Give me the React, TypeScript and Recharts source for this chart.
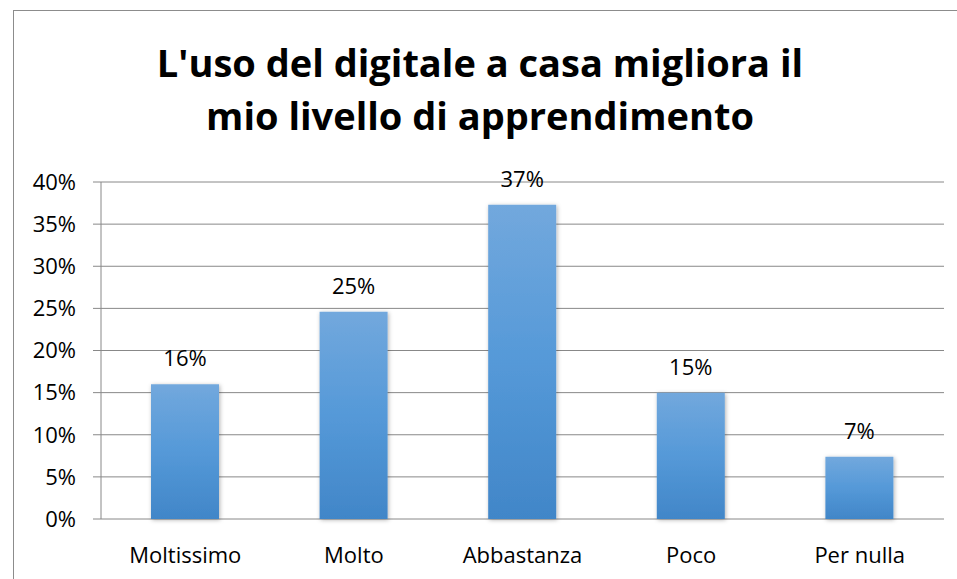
import { BarChart, Bar, XAxis, YAxis, CartesianGrid, LabelList } from "recharts";

const categories = ["Moltissimo", "Molto", "Abbastanza", "Poco", "Per nulla"];
const shares = [0.16, 0.246, 0.373, 0.15, 0.074];
const yTicks = [0, 0.05, 0.1, 0.15, 0.2, 0.25, 0.3, 0.35, 0.4];
const boundaryTicks = [0, 1, 2, 3, 4, 5];

const data = categories.map((name, i) => ({ name, value: shares[i], pos: i + 0.5 }));

const FONT = "'Open Sans', Lato, sans-serif";
const GRID = "#888888";
const pct = (v: number) => `${Math.round(v * 100)}%`;

export default function App() {
  return (
    <div style={{ position: "absolute", left: 0, top: 0, width: 957, height: 579, background: "#fff", overflow: "hidden" }}>
      {/* chart frame */}
      <div style={{ position: "absolute", left: 13, top: 10, width: 960, height: 600, border: "1px solid #8c8c8c" }} />
      <div
        style={{
          position: "absolute", left: 0, top: 36, width: 960, textAlign: "center",
          fontFamily: FONT, fontWeight: 700, fontSize: 38, lineHeight: "53px", color: "#000",
        }}
      >
        L'uso del digitale a casa migliora il
        <br />
        mio livello di apprendimento
      </div>
      <BarChart
        width={957}
        height={579}
        data={data}
        margin={{ top: 182, right: 13, bottom: 30, left: 13 }}
        style={{ position: "absolute", left: 0, top: 0 }}
      >
        <defs>
          <linearGradient id="barFill" x1="0" y1="0" x2="0" y2="1">
            <stop offset="0%" stopColor="#72a8dd" />
            <stop offset="50%" stopColor="#5599d8" />
            <stop offset="100%" stopColor="#4186c8" />
          </linearGradient>
          <filter id="barShadow" x="-20%" y="-10%" width="140%" height="120%">
            <feDropShadow dx="1" dy="1" stdDeviation="2" floodColor="#000" floodOpacity="0.3" />
          </filter>
        </defs>
        <CartesianGrid vertical={false} stroke={GRID} strokeWidth={1} />
        <XAxis
          dataKey="name"
          xAxisId="cat"
          axisLine={false}
          tickLine={false}
          tickSize={0}
          tickMargin={28}
          height={30}
          tick={{ fill: "#000", fontSize: 22, fontFamily: FONT }}
          interval={0}
        />
        <XAxis
          xAxisId="edge"
          type="number"
          dataKey="pos"
          domain={[0, 5]}
          ticks={boundaryTicks}
          tick={false}
          tickSize={8}
          axisLine={{ stroke: GRID }}
          tickLine={{ stroke: GRID }}
          height={0}
        />
        <YAxis
          width={88}
          domain={[0, 0.4]}
          ticks={yTicks}
          tickFormatter={pct}
          tickSize={8}
          tickMargin={17}
          axisLine={{ stroke: GRID }}
          tickLine={{ stroke: GRID }}
          tick={{ fill: "#000", fontSize: 22, fontFamily: FONT }}
        />
        <Bar
          xAxisId="cat"
          dataKey="value"
          fill="url(#barFill)"
          filter="url(#barShadow)"
          barSize={68}
          isAnimationActive={false}
        >
          <LabelList
            dataKey="value"
            position="top"
            offset={18}
            formatter={(v: any) => pct(Number(v))}
            style={{ fill: "#000", fontSize: 22, fontFamily: FONT }}
          />
        </Bar>
      </BarChart>
    </div>
  );
}
